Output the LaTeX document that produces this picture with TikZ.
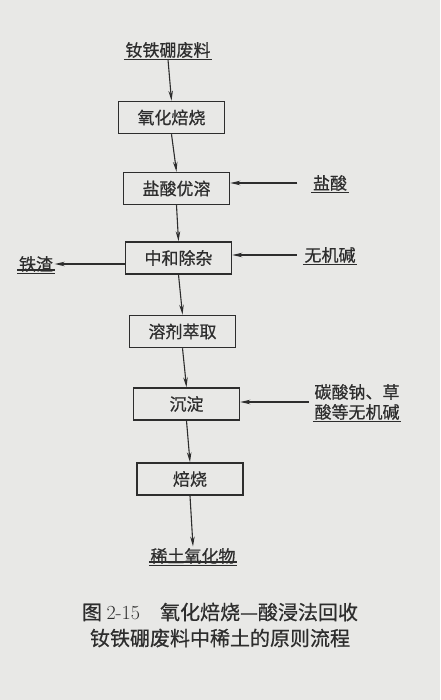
\documentclass[tikz,border=0pt]{standalone}
\usepackage{fontspec}
\newfontfamily\cjk[FakeBold=0.6]{Noto Sans CJK SC}
\usetikzlibrary{arrows.meta}
\definecolor{paper}{RGB}{232,232,230}
\definecolor{ink}{RGB}{45,45,45}
\tikzset{
  box/.style={draw=ink, line width=1.5pt, minimum width=106pt, minimum height=32pt, inner sep=0pt,
    text=ink, font=\cjk\fontsize{17pt}{20pt}\selectfont},
  lab/.style={inner sep=1.5pt, text=ink, font=\cjk\fontsize{17pt}{20pt}\selectfont},
  arr/.style={draw=ink, line width=1.1pt, -{Stealth[length=10pt,width=4.5pt]}},
  uline/.style={draw=ink, line width=1.2pt},
}
\begin{document}
\begin{tikzpicture}[x=1pt,y=-1pt]
\fill[paper] (0,0) rectangle (440,700);
\useasboundingbox (0,0) rectangle (440,700);
% boxes
\node[box] (b1) at (171.5,117.5) {氧化焙烧};
\node[box] (b2) at (176.5,188.5) {盐酸优溶};
\node[box] (b3) at (178.5,258) {中和除杂};
\node[box] (b4) at (182.5,331.5) {溶剂萃取};
\node[box] (b5) at (186.5,404) {沉淀};
\node[box] (b6) at (190,479) {焙烧};
% labels
\node[lab] (src) at (168,50) {钕铁硼废料};
\draw[uline] (src.south west) -- (src.south east);
\node[lab] (hcl) at (330,183) {盐酸};
\draw[uline] (hcl.south west) -- (hcl.south east);
\node[lab] (base) at (330,255) {无机碱};
\draw[uline] (base.south west) -- (base.south east);
\node[lab] (fe) at (36,264) {铁渣};
\draw[uline] (fe.south west) -- (fe.south east);
\draw[uline] ([yshift=3.5pt]fe.south west) -- ([yshift=3.5pt]fe.south east);
\node[lab, align=left] (na) at (357,402) {碳酸钠、草\\酸等无机碱};
\draw[uline] (na.south west) -- (na.south east);
\node[lab] (re) at (193,556) {稀土氧化物};
\draw[uline] (re.south west) -- (re.south east);
\draw[uline] ([yshift=3.5pt]re.south west) -- ([yshift=3.5pt]re.south east);
% caption
\node[text=ink, font=\cjk\fontsize{20pt}{26pt}\selectfont, align=center] (cap) at (220,625)
  {图 {\rmfamily 2-15}\hspace{1em}氧化焙烧—酸浸法回收\\钕铁硼废料中稀土的原则流程};
% connectors
\draw[arr] (src.south) -- (b1.north);
\draw[arr] (b1.south) -- (b2.north);
\draw[arr] (b2.south) -- (b3.north);
\draw[arr] (b3.south) -- (b4.north);
\draw[arr] (b4.south) -- (b5.north);
\draw[arr] (b5.south) -- (b6.north);
\draw[arr] (b6.south) -- (re.north);
\draw[arr] ([xshift=-14pt]hcl.west) -- (b2.east |- hcl.west);
\draw[arr] ([xshift=-6pt]base.west) -- (b3.east |- base.west);
\draw[arr] (b3.west |- fe.east) -- (fe.east);
\draw[arr] ([xshift=-4pt]na.west) -- (b5.east |- na.west);
\end{tikzpicture}
\end{document}
